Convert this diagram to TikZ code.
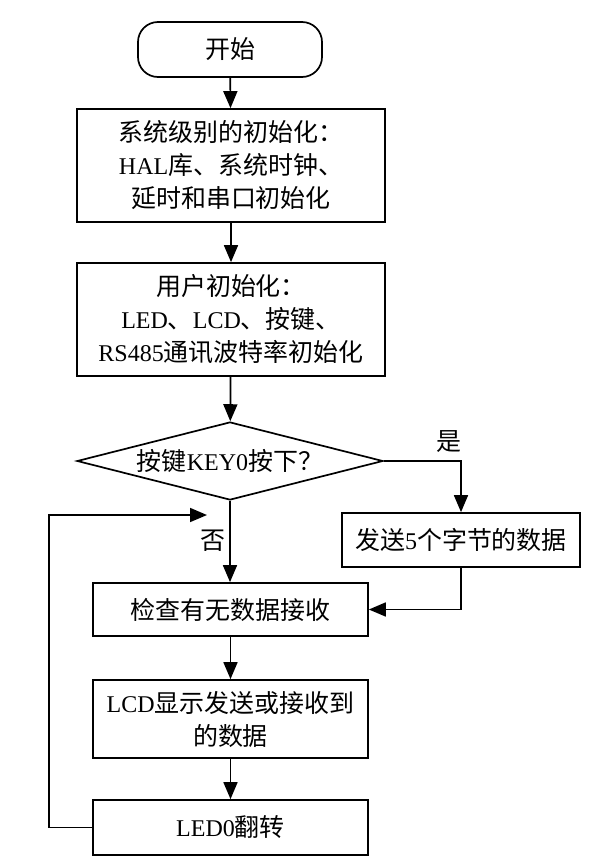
\documentclass[tikz,border=0pt]{standalone}
\usepackage{fontspec}
\setmainfont{Liberation Serif}
\newfontfamily\cjk[Scale=1.04]{Noto Sans CJK SC}
\newcommand{\cn}[1]{{\cjk #1}}
\usepackage{tikz}
\usetikzlibrary{arrows.meta,shapes.geometric}

\tikzset{
  box/.style={draw,line width=1.7pt,align=center,inner sep=0pt,minimum width=308pt},
  term/.style={draw,line width=1.7pt,rounded corners=20pt,inner sep=0pt,minimum width=184pt,minimum height=55pt},
  decision/.style={draw,diamond,line width=1.7pt,aspect=3.9,inner sep=0pt,minimum width=306pt,minimum height=78pt},
  arr/.style={line width=1.7pt,-{Triangle[length=17pt,width=14pt]}}
}

\begin{document}
\begin{tikzpicture}[x=1pt,y=-1pt,font=\fontsize{24}{33}\selectfont]
        \useasboundingbox (0,0) rectangle (591,860);
        % main column
        \node[term] (start) at (230,49.5) {\cn{开始}};
        \node[box,minimum height=113pt] (sysinit) at (231,165.5)
            {\cn{系统级别的初始化：}\\HAL\cn{库、系统时钟、}\\\cn{延时和串口初始化}};
        \node[box,minimum height=113pt] (userinit) at (231,319.5)
            {\cn{用户初始化：}\\LED\cn{、}LCD\cn{、按键、}\\RS485\cn{通讯波特率初始化}};
        \node[decision] (keychk) at (230,461) {\cn{按键}KEY0\cn{按下？}};
        \node[box,minimum width=238pt,minimum height=54pt] (send) at (461,540)
            {\cn{发送}5\cn{个字节的数据}};
        \node[box,minimum width=275pt,minimum height=53pt] (recv) at (230.5,609.5)
            {\cn{检查有无数据接收}};
        \node[box,minimum width=275pt,minimum height=78pt] (show) at (230.5,719)
            {LCD\cn{显示发送或接收到}\\\cn{的数据}};
        \node[box,minimum width=275pt,minimum height=55pt] (toggle) at (230.5,827.5)
            {LED0\cn{翻转}};
        % loop back
        \coordinate (loopend) at (207,515);
        % arrows
        \draw[arr] (start) -- (sysinit);
        \draw[arr] (sysinit) -- (userinit);
        \draw[arr] (userinit) -- (keychk);
        \draw[arr] (keychk.south) -- (keychk.south |- recv.north);
        \node (no) at (213,541) {\cn{否}};
        \draw[arr] (keychk.east) -| (send.north);
        \node (yes) at (449,442) {\cn{是}};
        \draw[arr] (send.south) |- (recv.east);
        \draw[arr] (recv) -- (show);
        \draw[arr] (show) -- (toggle);
        \draw[arr] (toggle.west) -- ++(-43,0) |- (loopend);
\end{tikzpicture}
\end{document}
